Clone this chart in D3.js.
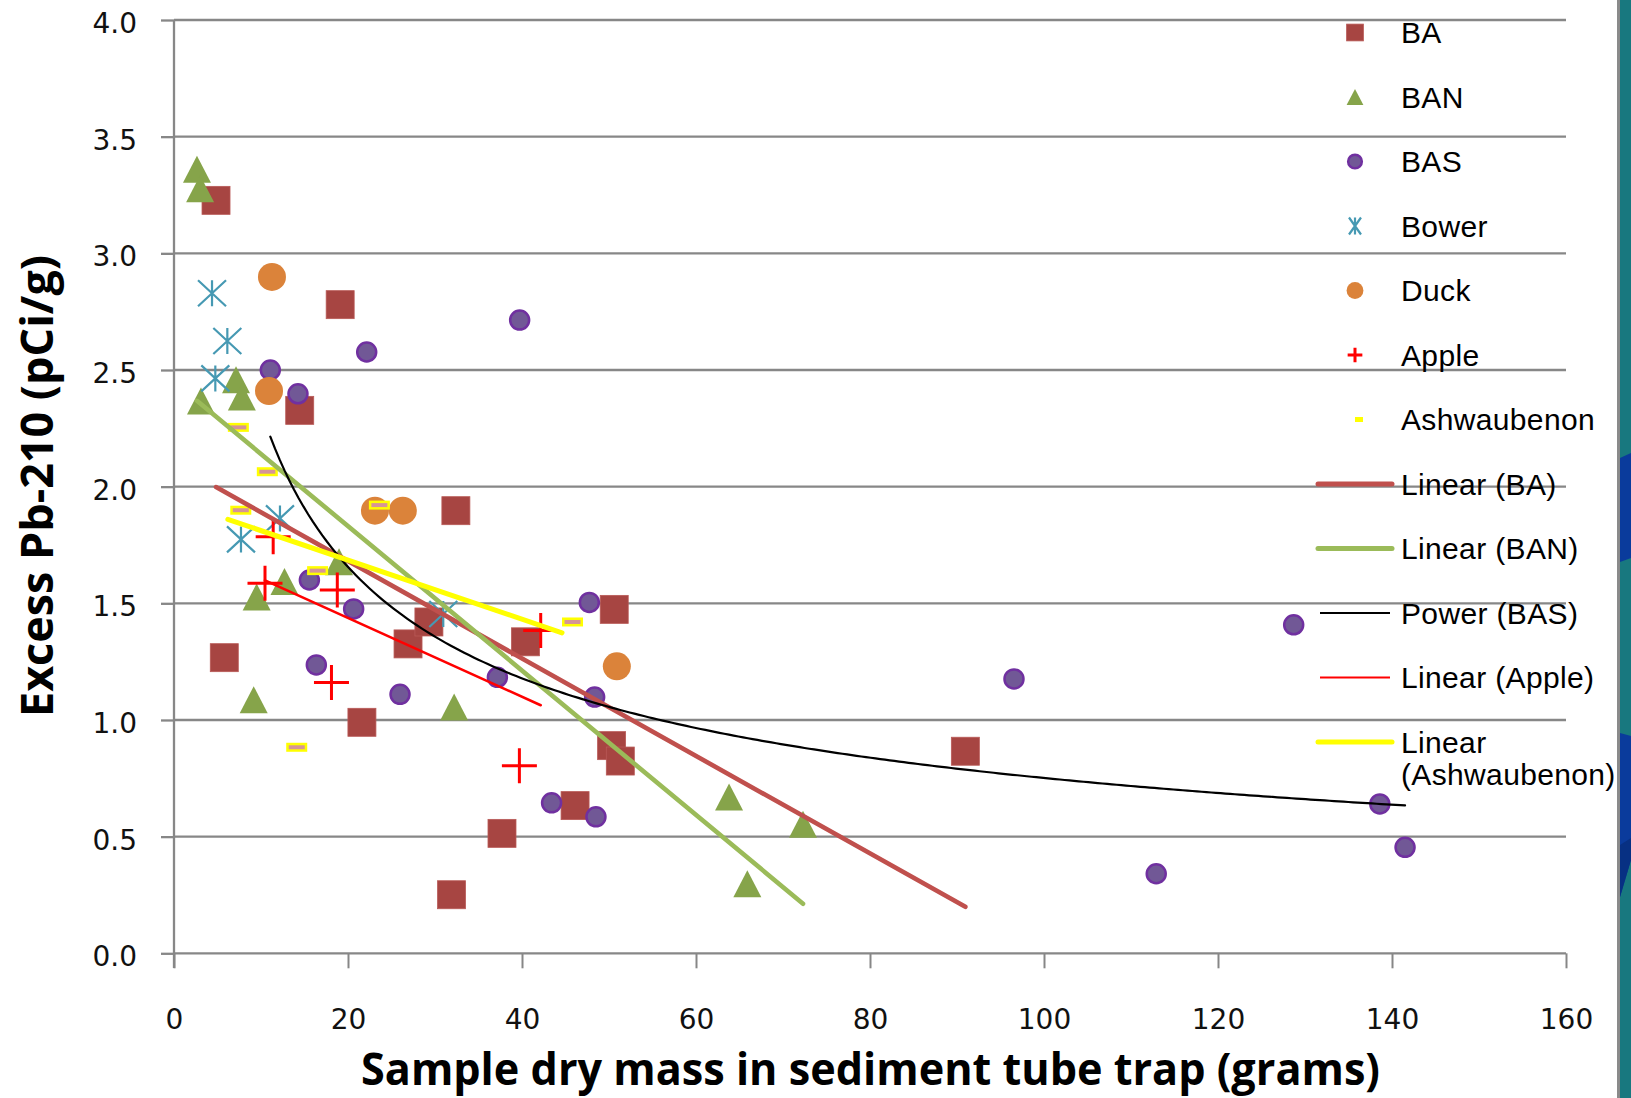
<!DOCTYPE html>
<html>
<head>
<meta charset="utf-8">
<script src="https://cdn.jsdelivr.net/npm/d3@7"></script>
<style>
  html, body { margin: 0; padding: 0; background: #fff; }
  svg { display: block; }
</style>
</head>
<body>
<svg id="chart" width="1631" height="1098"></svg>
<script>
// ---- data: sample dry mass (g) vs excess Pb-210 (pCi/g) per site ----
const baMass  = [4.83, 5.78, 19.1, 14.45, 32.4, 21.6, 26.9, 29.3, 40.4, 50.6, 50.3, 51.3, 46.1, 37.7, 31.9, 90.96];
const baPb    = [3.227, 1.267, 2.78, 2.327, 1.897, 0.99, 1.326, 1.42, 1.335, 1.474, 0.89, 0.824, 0.633, 0.514, 0.251, 0.866];

const banMass = [2.64, 3.0, 3.1, 7.13, 7.8, 9.5, 12.7, 9.16, 18.97, 32.2, 63.8, 72.3, 65.9];
const banPb   = [3.36, 3.277, 2.367, 2.458, 2.384, 1.527, 1.593, 1.087, 1.678, 1.056, 0.67, 0.553, 0.298];

const basMass = [11.07, 14.25, 22.15, 39.73, 15.56, 20.65, 16.36, 25.98, 37.17, 47.74, 43.4, 48.35, 48.5, 96.55, 128.7, 112.9, 138.6, 141.5];
const basPb   = [2.50, 2.398, 2.577, 2.714, 1.60, 1.476, 1.236, 1.11, 1.183, 1.504, 0.645, 1.098, 0.585, 1.176, 1.408, 0.341, 0.64, 0.454];

const bowerMass = [4.37, 6.13, 4.75, 12.18, 7.7, 30.95];
const bowerPb   = [2.829, 2.624, 2.464, 1.864, 1.774, 1.454];

const duckMass = [11.26, 10.92, 23.1, 26.3, 50.9];
const duckPb   = [2.899, 2.41, 1.897, 1.897, 1.23];

const appleMass = [11.4, 10.46, 18.77, 18.1, 42.15, 39.7];
const applePb   = [1.785, 1.586, 1.557, 1.161, 1.383, 0.804];

const ashMass = [6.19, 9.52, 6.47, 22.4, 15.3, 44.6, 12.9];
const ashPb   = [2.254, 2.064, 1.899, 1.921, 1.64, 1.42, 0.883];

const xTicks = [0, 20, 40, 60, 80, 100, 120, 140, 160];
const yTicks = [0, 0.5, 1.0, 1.5, 2.0, 2.5, 3.0, 3.5, 4.0];

const seriesNames = ["BA", "BAN", "BAS", "Bower", "Duck", "Apple", "Ashwaubenon"];
const trendNames  = ["Linear (BA)", "Linear (BAN)", "Power (BAS)", "Linear (Apple)", "Linear (Ashwaubenon)"];

const xTitle = "Sample dry mass in sediment tube trap (grams)";
const yTitle = "Excess Pb-210 (pCi/g)";

// ---- layout ----
const svg = d3.select("#chart");
const x = d3.scaleLinear().domain([0, 160]).range([174, 1566]);
const y = d3.scaleLinear().domain([0, 4]).range([953.3, 20]);
const gridColor = "#878787";

// slide edge strip on the right
svg.append("rect").attr("x", 1617).attr("y", 0).attr("width", 3).attr("height", 1098).attr("fill", "#8a8a8a");
svg.append("rect").attr("x", 1620).attr("y", 0).attr("width", 11).attr("height", 1098).attr("fill", "#18787f");
svg.append("polygon").attr("points", "1620,458 1631,453 1631,558 1620,562").attr("fill", "#0a3b9c");
svg.append("polygon").attr("points", "1620,733 1631,736 1631,860 1620,897").attr("fill", "#0a3b9c");
svg.append("polygon").attr("points", "1620,845 1631,838 1631,860 1620,897").attr("fill", "#073083");

// horizontal gridlines
svg.append("g").selectAll("line").data(yTicks).join("line")
  .attr("x1", 174).attr("x2", 1566)
  .attr("y1", d => y(d)).attr("y2", d => y(d))
  .attr("stroke", gridColor).attr("stroke-width", 2.3);

// y axis with labels
const yAxisG = svg.append("g").attr("transform", "translate(174,0)")
  .call(d3.axisLeft(y).tickValues(yTicks).tickFormat(d3.format(".1f"))
    .tickSizeInner(13).tickSizeOuter(0).tickPadding(24));
yAxisG.select(".domain").remove();
yAxisG.selectAll(".tick line").attr("stroke", gridColor).attr("stroke-width", 2.3);
yAxisG.selectAll(".tick text")
  .attr("font-family", "'DejaVu Sans', sans-serif").attr("font-size", 28)
  .attr("fill", "#111").attr("dy", "0.45em");

// vertical axis line
svg.append("line").attr("x1", x(0)).attr("x2", x(0)).attr("y1", y(4)).attr("y2", 968)
  .attr("stroke", gridColor).attr("stroke-width", 2.3);

// x axis ticks and labels
const xAxisG = svg.append("g").attr("transform", `translate(0,${y(0)})`)
  .call(d3.axisBottom(x).tickValues(xTicks).tickFormat(d3.format("d"))
    .tickSizeInner(15).tickSizeOuter(0).tickPadding(41));
xAxisG.select(".domain").remove();
xAxisG.selectAll(".tick line").attr("stroke", gridColor).attr("stroke-width", 2);
xAxisG.selectAll(".tick text")
  .attr("font-family", "'DejaVu Sans', sans-serif").attr("font-size", 28).attr("fill", "#111");

// axis titles
svg.append("text")
  .attr("transform", "translate(53,486) rotate(-90)")
  .attr("text-anchor", "middle")
  .attr("font-family", "'Open Sans', sans-serif").attr("font-weight", 700).attr("font-size", 44)
  .attr("textLength", 462).attr("lengthAdjust", "spacingAndGlyphs")
  .text(yTitle);
svg.append("text")
  .attr("x", 870.5).attr("y", 1085)
  .attr("text-anchor", "middle")
  .attr("font-family", "'Open Sans', sans-serif").attr("font-weight", 700).attr("font-size", 44)
  .attr("textLength", 1019).attr("lengthAdjust", "spacingAndGlyphs")
  .text(xTitle);

// ---- marker glyphs (k = size factor) ----
const glyph = {
  BA: (g, k) => g.append("rect").attr("x", -14 * k).attr("y", -14 * k).attr("width", 28 * k).attr("height", 28 * k)
      .attr("fill", "#a74542").attr("stroke", "#b95a57").attr("stroke-width", 0.8),
  BAN: (g, k) => g.append("path").attr("d", `M0,${-13.5 * k}L${14 * k},${13.5 * k}L${-14 * k},${13.5 * k}Z`)
      .attr("fill", "#86a44a"),
  BAS: (g, k) => g.append("circle").attr("r", 9.5 * k)
      .attr("fill", "#715896").attr("stroke", "#7030a0").attr("stroke-width", 2.5),
  Bower: (g, k, w = 14, h = 13) => g.append("path")
      .attr("d", `M${-w * k},${-h * k}L${w * k},${h * k}M${w * k},${-h * k}L${-w * k},${h * k}M0,${-h * k}V${h * k}`)
      .attr("stroke", "#4699b3").attr("stroke-width", 2.2).attr("fill", "none"),
  Duck: (g, k) => g.append("circle").attr("r", 14 * k).attr("fill", "#db833a"),
  Apple: (g, k) => g.append("path")
      .attr("d", `M${-17.5 * k},0H${17.5 * k}M0,${-17.5 * k}V${17.5 * k}`)
      .attr("stroke", "#ff0000").attr("stroke-width", 3).attr("fill", "none"),
  // the dash glyph extends to the right of its anchor point
  Ashwaubenon: (g, k) => g.append("rect").attr("x", 1.25 * k).attr("y", -3.25 * k)
      .attr("width", 18.5 * k).attr("height", 6.5 * k)
      .attr("fill", "#d69596").attr("stroke", "#ffff00").attr("stroke-width", 2.5)
};

const seriesData = [
  ["BA", baMass, baPb],
  ["BAN", banMass, banPb],
  ["BAS", basMass, basPb],
  ["Bower", bowerMass, bowerPb],
  ["Duck", duckMass, duckPb],
  ["Apple", appleMass, applePb],
  ["Ashwaubenon", ashMass, ashPb]
];

// scatter markers
const markLayer = svg.append("g");
seriesData.forEach(([name, xs, ys]) => {
  xs.forEach((mx, i) => {
    const g = markLayer.append("g").attr("transform", `translate(${x(mx)},${y(ys[i])})`);
    glyph[name](g, 1);
  });
});

// ---- trendlines ----
function linearFit(xs, ys) {
  const mx = d3.mean(xs), my = d3.mean(ys);
  let sxy = 0, sxx = 0;
  xs.forEach((v, i) => { sxy += (v - mx) * (ys[i] - my); sxx += (v - mx) * (v - mx); });
  const m = sxy / sxx;
  return v => my + m * (v - mx);
}
function powerFit(xs, ys) {
  const lx = xs.map(Math.log), ly = ys.map(Math.log);
  const f = linearFit(lx, ly);
  return v => Math.exp(f(Math.log(v)));
}

const trendStyles = [
  { xs: baMass, ys: baPb, kind: "linear", color: "#c0504d", w: 4.6 },
  { xs: banMass, ys: banPb, kind: "linear", color: "#9bbb59", w: 4.6 },
  { xs: basMass, ys: basPb, kind: "power", color: "#000000", w: 2.2 },
  { xs: appleMass, ys: applePb, kind: "linear", color: "#ff0000", w: 2.6 },
  { xs: ashMass, ys: ashPb, kind: "linear", color: "#ffff00", w: 5 }
];

const lineGen = d3.line().x(d => x(d[0])).y(d => y(d[1]));
const trendLayer = svg.append("g");
trendStyles.forEach(t => {
  const f = t.kind === "power" ? powerFit(t.xs, t.ys) : linearFit(t.xs, t.ys);
  const [lo, hi] = d3.extent(t.xs);
  const n = t.kind === "power" ? 240 : 1;
  const pts = d3.range(n + 1).map(i => { const v = lo + (hi - lo) * i / n; return [v, f(v)]; });
  trendLayer.append("path").attr("d", lineGen(pts))
    .attr("fill", "none").attr("stroke", t.color).attr("stroke-width", t.w)
    .attr("stroke-linecap", "round").attr("stroke-linejoin", "round");
});

// ---- legend ----
const legend = svg.append("g");
const rowY = i => 32.5 + 64.5 * i;
const legendFont = "'Liberation Sans', Arial, sans-serif";
const addLabel = (lines, cy) => {
  const t = legend.append("text").attr("font-family", legendFont).attr("font-size", 30)
    .attr("letter-spacing", 0.35).attr("fill", "#000");
  lines.forEach((s, j) => t.append("tspan").attr("x", 1401).attr("y", cy + 10.5 + 32 * j).text(s));
};

// legend key glyphs are drawn smaller than the plotted markers
const legendGlyph = {
  BA: g => glyph.BA(g, 0.6),
  BAN: g => glyph.BAN(g, 0.6),
  BAS: g => glyph.BAS(g, 0.72),
  Bower: g => glyph.Bower(g, 1, 6, 8.5),
  Duck: g => glyph.Duck(g, 0.6),
  Apple: g => glyph.Apple(g, 0.42),
  Ashwaubenon: g => g.append("rect").attr("x", 0).attr("y", -2.5).attr("width", 8).attr("height", 5).attr("fill", "#ffff00")
};

seriesNames.forEach((name, i) => {
  const g = legend.append("g").attr("transform", `translate(1355,${rowY(i)})`);
  legendGlyph[name](g);
  addLabel([name], rowY(i));
});

trendStyles.forEach((t, j) => {
  const i = seriesNames.length + j;
  const thick = t.w > 4;
  legend.append("line")
    .attr("x1", thick ? 1318 : 1320).attr("x2", thick ? 1392 : 1390)
    .attr("y1", rowY(i)).attr("y2", rowY(i))
    .attr("stroke", t.color).attr("stroke-width", thick ? 5 : (t.kind === "power" ? 1.8 : 2))
    .attr("stroke-linecap", thick ? "round" : "butt");
  const label = trendNames[j];
  const lines = label === "Linear (Ashwaubenon)" ? ["Linear", "(Ashwaubenon)"] : [label];
  addLabel(lines, rowY(i));
});
</script>
</body>
</html>
